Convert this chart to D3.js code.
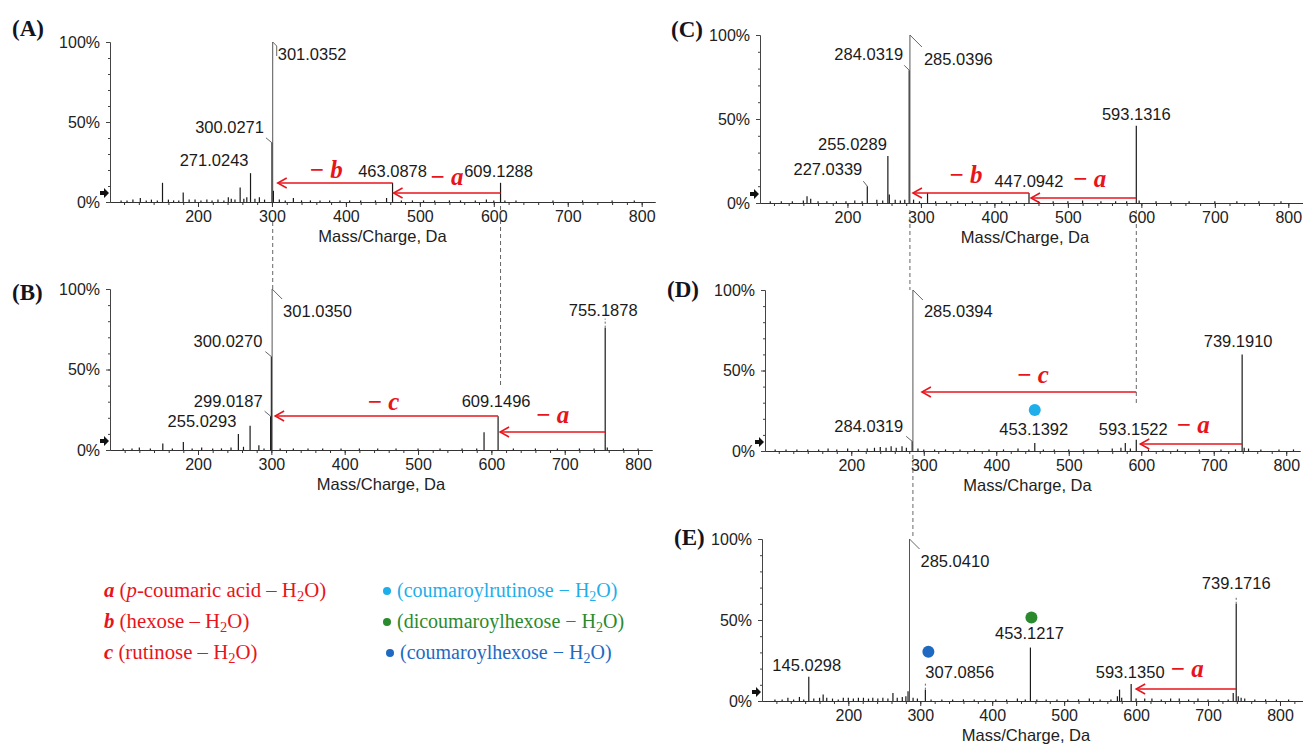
<!DOCTYPE html>
<html><head><meta charset="utf-8">
<script src="https://cdn.jsdelivr.net/npm/d3@7"></script>
<style>body{margin:0;background:#fff}svg{display:block}</style>
</head><body><svg id="c" width="1303" height="744"></svg>
<script>
// ---------------- DATA ----------------
const xTicks = [200,300,400,500,600,700,800];
const yTicks = [0,50,100];
const yTickLabels = ["0%","50%","100%"];
const panelLetters = ["(A)","(B)","(C)","(D)","(E)"];
const axisTitle = "Mass/Charge, Da";

// [m/z, relative intensity %]
const peaksA = [[96,1],[104,1],[112,1.5],[122,2.5],[130,1],[137,1.5],[145,1],[152,12],[160,1.5],[167,1],[174,1],[180,6],[188,1.5],[196,1.5],[204,1],[212,1.5],[219,1],[227,1.5],[235,1],[241,3],[245,2],[250,1.5],[257,9],[262,2],[266,3],[271.0243,18],[277,2],[283,3],[290,1.5],[300.0271,37],[301.0352,100],[302,7],[310,1.5],[318,1],[329,2.5],[340,1],[352,1],[365,1],[378,1],[392,1],[405,1],[420,1],[440,1],[455,2.5],[463.0878,12],[475,1],[490,1],[505,1],[520,1],[540,1],[555,1],[575,1],[590,1.5],[600,1],[609.1288,12],[615,1],[630,1],[680,1],[720,1],[760,1],[790,1]];
const peaksB = [[98,1],[110,1],[120,1.5],[135,1],[152,4],[165,1],[180,5],[192,1],[205,1.5],[220,1],[232,1],[245,1.5],[255.0293,10],[262,2],[271,15],[283,3],[290,1],[299.0187,21],[300.0270,58],[301.0350,100],[312,1],[330,1],[350,1],[370,1],[395,1],[420,1],[445,1],[470,1],[500,1],[530,1],[560,1],[580,1],[590,11],[609.1496,21],[630,1],[660,1],[690,1],[720,1],[740,1],[755.1878,76],[758,1.5],[780,1],[800,1]];
const peaksC = [[95,1],[110,1],[125,1],[140,1.5],[145,4],[150,2.5],[160,1],[172,1],[185,1],[198,1],[210,1.5],[220,1],[227.0339,10],[240,2],[248,1.5],[255.0289,28],[257,5],[265,2],[272,1.5],[278,2],[284.0319,79],[285.0396,100],[290,2],[298,1],[309,6],[320,1],[335,1],[350,1],[370,1],[390,1],[410,1],[430,1],[447.0942,6],[460,1],[480,1],[500,1],[520,1.5],[545,1],[565,1],[580,1],[593.1316,46],[597,1.5],[620,1],[640,1],[665,1],[700,1],[730,1],[760,1],[790,1]];
const peaksD = [[95,1],[110,1],[125,1],[140,1],[155,1],[168,1.5],[180,1],[195,1.5],[210,1],[222,1.5],[232,2],[240,2.5],[248,2],[255,3],[262,2],[270,3],[276,2],[284.0319,6],[285.0394,100],[292,1.5],[300,1],[315,1],[330,1],[350,1],[370,1],[390,1],[410,1],[430,1.5],[445,1],[453.1392,5],[465,1],[480,1],[500,1],[520,1],[540,1],[560,1.5],[572,2],[578,5],[585,1.5],[593.1522,7],[610,1],[630,1],[650,1],[680,1],[710,1],[730,1],[739.1910,60],[742,2],[748,1.5],[765,1],[790,1],[810,1]];
const peaksE = [[98,1],[108,1],[116,2],[124,1],[132,2.5],[138,1],[145.0298,15],[152,1.5],[160,2],[165,4],[170,2],[178,1.5],[186,1],[193,2],[200,2],[207,1.5],[214,2],[221,2],[228,1.5],[234,2],[241,1.5],[248,2],[255,1.5],[262,5],[268,2],[275,2.5],[280,3],[283,6],[285.0410,100],[290,2],[296,1.5],[307.0856,7],[315,1],[330,1],[345,1],[360,1],[375,1],[390,1],[405,1],[420,1],[435,1.5],[446,1],[453.1217,33],[462,1],[475,1],[490,1],[505,1],[520,1],[535,1.5],[550,1],[565,1],[574,3],[577,7],[580,2],[593.1350,10.5],[600,1.5],[612,1.5],[622,1.5],[635,1],[648,1.5],[660,1.5],[673,1],[686,1.5],[700,1],[715,1],[728,1],[735,5],[739.1716,60],[742,3],[746,2],[751,1.5],[765,1],[780,1],[795,1],[812,1]];

// labelled peaks (m/z)
const annotA = [301.0352,300.0271,271.0243,463.0878,609.1288];
const annotB = [301.0350,300.0270,299.0187,255.0293,609.1496,755.1878];
const annotC = [285.0396,284.0319,255.0289,227.0339,593.1316,447.0942];
const annotD = [285.0394,284.0319,453.1392,593.1522,739.1910];
const annotE = [285.0410,145.0298,307.0856,453.1217,593.1350,739.1716];

// neutral losses: [key, from m/z, to m/z]
const lossesA = [["a",609.1288,463.0878],["b",463.0878,301.0352]];
const lossesB = [["c",609.1496,301.0350],["a",755.1878,609.1496]];
const lossesC = [["b",447.0942,285.0396],["a",593.1316,447.0942]];
const lossesD = [["c",593.1316,285.0394],["a",739.1910,593.1522]];
const lossesE = [["a",739.1716,593.1350]];

// marker dots: [m/z, marker index]
const dotsD = [[453.1392,0]];
const dotsE = [[307.0856,2],[453.1217,1]];

// legend
const lossKeys = ["a","b","c"];
const lossNames = [["(","p","-coumaric acid \u2013 H"],["(","","hexose \u2013 H"],["(","","rutinose \u2013 H"]];
const markerNames = ["(coumaroylrutinose \u2212 H","(dicoumaroylhexose \u2212 H","(coumaroylhexose \u2212 H"];

// dashed links between panels: [panel, m/z]
const links = [["A",301.0352],["A",609.1288],["C",285.0396],["C",593.1316],["D",285.0394]];

// ---------------- LAYOUT / STYLE ----------------
const RED = "#e8141c";
const markerColors = ["#1eaeea","#2a8a2e","#1e6ac2"];
const frames = {
  A:{x0:110,x1:655,d0:81,d1:818,yTop:42,yBot:202,lx:12,ly:36},
  B:{x0:110,x1:652,d0:80,d1:819,yTop:289,yBot:450,lx:12,ly:300},
  C:{x0:760,x1:1303,d0:81,d1:820,yTop:35,yBot:203,lx:671,ly:37},
  D:{x0:765,x1:1300,d0:81,d1:819,yTop:290,yBot:451,lx:667,ly:297},
  E:{x0:762,x1:1303,d0:80,d1:832,yTop:539,yBot:701,lx:674,ly:545}
};
// label layout: [dx, dy, anchor, leader points, dashed]
const labLayout = {
  A:[[5,18,"start",[[0,0],[4,4],[4,14]]],[-8,-10,"end",[[0,0],[-6,-5]]],[-2,-7,"end",null],[0,-6,"middle",null],[-2,-6,"middle",null]],
  B:[[11,28,"start",[[0,0],[10,10]]],[-9,-10,"end",[[0,0],[-6,-5]]],[-8,-9,"end",[[0,0],[-6,-5]]],[-2,-7,"end",null],[-2,-9,"middle",null],[-2,-12,"middle",[[0,0],[0,-9]],true]],
  C:[[14,30,"start",[[0,0],[12,12]]],[-6,-10,"end",[[0,0],[-5,-5]]],[-1,-6,"end",null],[-5,-11,"end",[[0,0],[-4,-5]]],[0,-6,"middle",null],[0,-6,"middle",null]],
  D:[[11,27,"start",[[0,0],[10,10]]],[-9,-9,"end",[[0,0],[-6,-5]]],[-1,-8,"middle",null],[-3,-5,"middle",null],[-4,-7,"middle",null]],
  E:[[11,28,"start",[[0,0],[10,10]]],[-2,-6,"middle",null],[0,-12,"start",[[0,0],[0,-8]],true],[-1,-9,"middle",null],[-1,-6,"middle",null],[0,-15,"middle",[[0,0],[0,-7]],true]]
};
// loss layout: [lift above baseline, tip gap, text dx, text dy]
const lossLayout = {
  A:[[9,1,0,-8],[19,5,-9,-5]],
  B:[[34,3,-3,-6],[18,2,0,-9]],
  C:[[10,3,-5,-10],[5,2,6,-11]],
  D:[[59,9,4,-9],[7,4,2,-11]],
  E:[[12,5,1,-12]]
};
const dotLayout = {D:[[0,-33]],E:[[3,-38],[1,-30]]};
const linkLayout = [[222,289],[206,386],[210,290],[210,405],[455,538]];

const svg = d3.select("#c");
const SANS = "'Liberation Sans', Arial, sans-serif";
const SERIF = "'Liberation Serif', 'Times New Roman', serif";
const scales = {};

function drawPanel(key, idx, peaks, annot, losses, dots){
  const f = frames[key];
  const x = d3.scaleLinear().domain([f.d0,f.d1]).range([f.x0,f.x1]);
  const y = d3.scaleLinear().domain([0,100]).range([f.yBot,f.yTop]);
  scales[key] = {x,y};
  const g = svg.append("g");

  g.append("g").attr("transform",`translate(0,${f.yBot})`)
    .call(d3.axisBottom(x).tickValues(d3.range(100,f.d1,20)).tickSize(3).tickSizeOuter(0).tickFormat(""))
    .call(s=>s.selectAll("line,path").attr("stroke","#333"));
  g.append("g").attr("transform",`translate(0,${f.yBot})`)
    .call(d3.axisBottom(x).tickValues(xTicks).tickSize(5).tickSizeOuter(0).tickPadding(4).tickFormat(d3.format("d")))
    .call(s=>{s.selectAll("line,path").attr("stroke","#333");
      s.selectAll("text").attr("font-family",SANS).attr("font-size",16).attr("fill","#222");});
  g.append("g").attr("transform",`translate(${f.x0},0)`)
    .call(d3.axisLeft(y).tickValues(d3.range(0,101,10)).tickSize(2).tickSizeOuter(0).tickFormat(""))
    .call(s=>s.selectAll("line,path").attr("stroke","#444"));
  g.append("g").attr("transform",`translate(${f.x0},0)`)
    .call(d3.axisLeft(y).tickValues(yTicks).tickSize(4).tickSizeOuter(0).tickPadding(6).tickFormat((d,i)=>yTickLabels[i]))
    .call(s=>{s.selectAll("line,path").attr("stroke","#444");
      s.selectAll("text").attr("font-family",SANS).attr("font-size",16).attr("fill","#222");});

  g.append("text").attr("x",(f.x0+Math.min(f.x1,1290))/2).attr("y",f.yBot+40)
    .attr("text-anchor","middle").attr("font-family",SANS).attr("font-size",16.5).attr("fill","#222").text(axisTitle);

  g.append("text").attr("x",f.lx).attr("y",f.ly).attr("font-family",SERIF).attr("font-weight","bold")
    .attr("font-size",23).attr("fill","#141420").text(panelLetters[idx]);

  g.append("path").attr("transform",`translate(${f.x0-5},${f.yBot-9})`)
    .attr("d","M-5,-2 L-1,-2 L-1,-5 L4,0 L-1,5 L-1,2 L-5,2 Z").attr("fill","#111");

  g.append("g").selectAll("line").data(peaks).join("line")
    .attr("x1",d=>x(d[0])).attr("x2",d=>x(d[0]))
    .attr("y1",y(0)).attr("y2",d=>y(d[1]))
    .attr("stroke",d=>d[1]>=90?"#555":"#1a1a1a").attr("stroke-width",d=>d[1]>=90?1:1.2);

  const lay = labLayout[key];
  annot.forEach((mz,i)=>{
    const pk = peaks.find(p=>p[0]===mz);
    const px = x(mz), py = y(pk[1]);
    const L = lay[i];
    if(L[3]){
      g.append("path").attr("d",d3.line()(L[3].map(p=>[px+p[0],py+p[1]])))
        .attr("fill","none").attr("stroke","#555").attr("stroke-width",0.9)
        .attr("stroke-dasharray",L[4]?"2,2":null);
    }
    g.append("text").attr("x",px+L[0]).attr("y",py+L[1]).attr("text-anchor",L[2])
      .attr("font-family",SANS).attr("font-size",16.5).attr("fill","#1a1a1a").text(mz.toFixed(4));
  });

  losses.forEach((l,i)=>{
    const LL = lossLayout[key][i];
    const yy = f.yBot-LL[0];
    const xs = x(l[1]), xe = x(l[2])+LL[1];
    g.append("line").attr("x1",xs).attr("x2",xe).attr("y1",yy).attr("y2",yy)
      .attr("stroke",RED).attr("stroke-width",1.5);
    g.append("path").attr("d",`M${xe+9},${yy-5} L${xe},${yy} L${xe+9},${yy+5}`)
      .attr("fill","none").attr("stroke",RED).attr("stroke-width",1.5);
    const t = g.append("text").attr("x",(xs+xe)/2+LL[2]).attr("y",yy+LL[3]).attr("text-anchor","middle")
      .attr("font-family",SERIF).attr("font-size",25).attr("fill",RED).attr("font-weight","bold");
    t.append("tspan").text("\u2212 ");
    t.append("tspan").attr("font-style","italic").text(l[0]);
  });

  (dots||[]).forEach((d,i)=>{
    const pk = peaks.find(p=>p[0]===d[0]);
    const o = dotLayout[key][i];
    g.append("circle").attr("cx",x(d[0])+o[0]).attr("cy",y(pk[1])+o[1]).attr("r",6)
      .attr("fill",markerColors[d[1]]);
  });
}

drawPanel("A",0,peaksA,annotA,lossesA);
drawPanel("B",1,peaksB,annotB,lossesB);
drawPanel("C",2,peaksC,annotC,lossesC);
drawPanel("D",3,peaksD,annotD,lossesD,dotsD);
drawPanel("E",4,peaksE,annotE,lossesE,dotsE);

links.forEach((l,i)=>{
  const xx = scales[l[0]].x(l[1]);
  svg.append("line").attr("x1",xx).attr("x2",xx).attr("y1",linkLayout[i][0]).attr("y2",linkLayout[i][1])
    .attr("stroke","#555").attr("stroke-width",0.9).attr("stroke-dasharray","4,3");
});

const legY = [597,628,659];
lossKeys.forEach((k,i)=>{
  const t = svg.append("text").attr("x",104).attr("y",legY[i]).attr("font-family",SERIF)
    .attr("font-size",20.8).attr("fill",RED);
  t.append("tspan").attr("font-weight","bold").attr("font-style","italic").text(k);
  t.append("tspan").text(" "+lossNames[i][0]);
  if(lossNames[i][1]) t.append("tspan").attr("font-style","italic").text(lossNames[i][1]);
  t.append("tspan").text(lossNames[i][2]);
  t.append("tspan").attr("font-size",14.5).attr("dy",4).text("2");
  t.append("tspan").attr("dy",-4).text("O)");
});
markerNames.forEach((m,i)=>{
  const dx = i===2?3:0;
  svg.append("circle").attr("cx",387+dx).attr("cy",legY[i]-6).attr("r",4).attr("fill",markerColors[i]);
  const t = svg.append("text").attr("x",397+dx).attr("y",legY[i]).attr("font-family",SERIF)
    .attr("font-size",20).attr("fill",markerColors[i]);
  t.append("tspan").text(m);
  t.append("tspan").attr("font-size",14).attr("dy",4).text("2");
  t.append("tspan").attr("dy",-4).text("O)");
});
</script></body></html>
